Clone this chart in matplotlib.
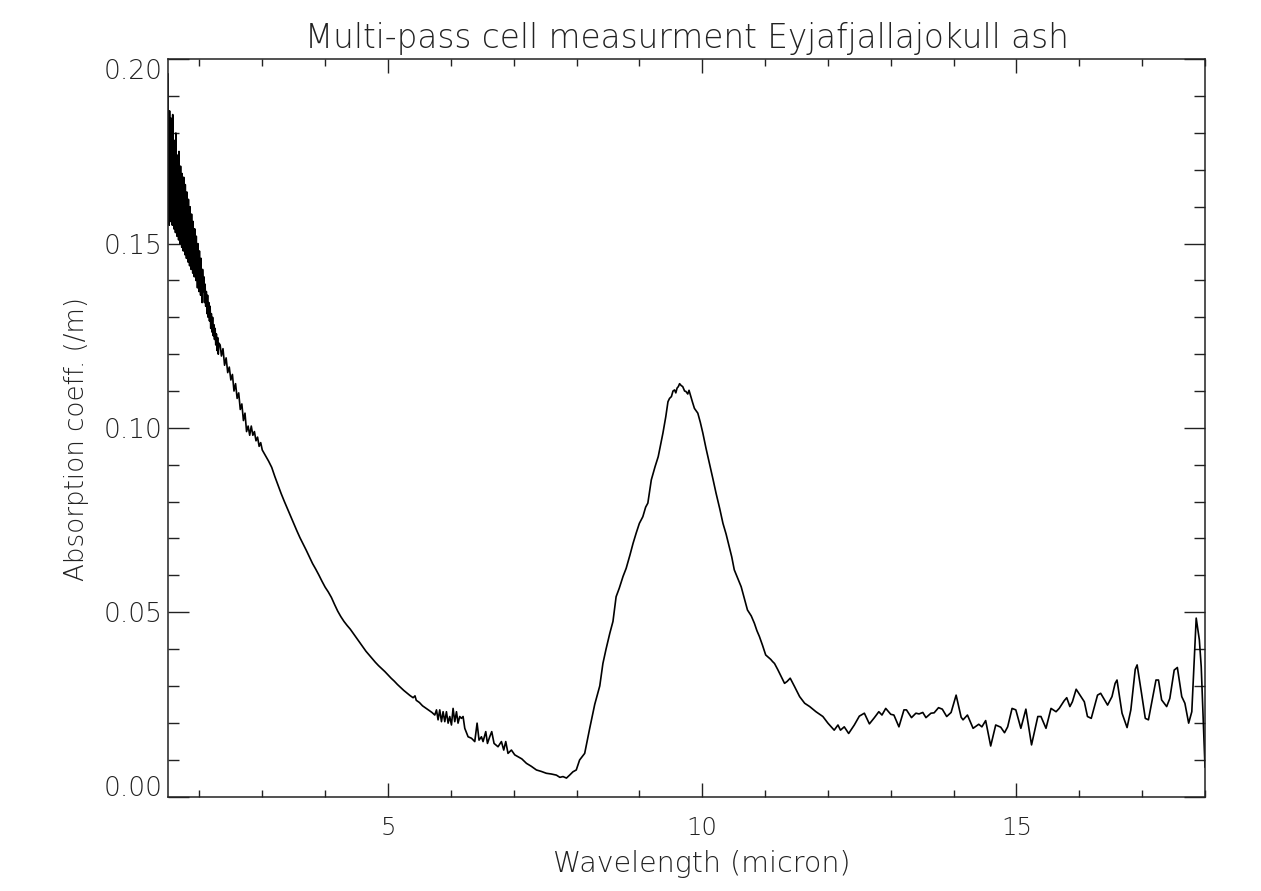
import matplotlib
matplotlib.use("Agg")
import matplotlib.pyplot as plt
from matplotlib.ticker import MultipleLocator, FixedFormatter, FixedLocator
import numpy as np

# ---------------- data ----------------
# short-wave noisy band, micron / absorption (/m)
wl_band = [1.50000, 1.50625, 1.51250, 1.51875, 1.52500, 1.53125, 1.53750, 1.54375, 1.55000, 1.55625,
           1.56250, 1.56875, 1.57500, 1.58125, 1.58750, 1.59375, 1.60000, 1.60625, 1.61250, 1.61875,
           1.62500, 1.63125, 1.63750, 1.64375, 1.65000, 1.65625, 1.66250, 1.66875, 1.67500, 1.68125,
           1.68750, 1.69375, 1.70000, 1.70625, 1.71250, 1.71875, 1.72500, 1.73125, 1.73750, 1.74375,
           1.75000, 1.75625, 1.76250, 1.76875, 1.77500, 1.78125, 1.78750, 1.79375, 1.80000, 1.80625,
           1.81250, 1.81875, 1.82500, 1.83125, 1.83750, 1.84375, 1.85000, 1.85625, 1.86250, 1.86875,
           1.87500, 1.88125, 1.88750, 1.89375, 1.90000, 1.90625, 1.91250, 1.91875, 1.92500, 1.93125,
           1.93750, 1.94375, 1.95000, 1.95625, 1.96250, 1.96875, 1.97500, 1.98125, 1.98750, 1.99375,
           2.00000, 2.00625, 2.01250, 2.01875, 2.02500, 2.03125, 2.03750, 2.04375, 2.05000]
ab_band = [0.196, 0.160, 0.183, 0.155, 0.186, 0.158, 0.179, 0.156, 0.184, 0.161,
           0.181, 0.155, 0.185, 0.158, 0.177, 0.154, 0.178, 0.159, 0.175, 0.153,
           0.180, 0.156, 0.172, 0.152, 0.174, 0.157, 0.170, 0.151, 0.175, 0.154,
           0.168, 0.150, 0.171, 0.155, 0.166, 0.149, 0.169, 0.153, 0.164, 0.148,
           0.168, 0.152, 0.163, 0.147, 0.166, 0.150, 0.161, 0.146, 0.164, 0.149,
           0.159, 0.145, 0.162, 0.148, 0.157, 0.144, 0.160, 0.147, 0.155, 0.143,
           0.158, 0.145, 0.153, 0.142, 0.156, 0.144, 0.151, 0.141, 0.154, 0.143,
           0.149, 0.140, 0.152, 0.141, 0.147, 0.138, 0.150, 0.140, 0.145, 0.137,
           0.148, 0.139, 0.143, 0.136, 0.146, 0.137, 0.141, 0.134, 0.143]

# fuzzy part of the short-wave decline
wl_short = [2.06, 2.07, 2.08, 2.09, 2.10, 2.11, 2.12, 2.13, 2.14, 2.15,
            2.16, 2.17, 2.18, 2.19, 2.20, 2.21, 2.22, 2.23, 2.24, 2.25,
            2.26, 2.27, 2.28, 2.29, 2.30, 2.31, 2.33, 2.35,
            2.375, 2.400, 2.425, 2.450, 2.475, 2.500, 2.525, 2.550, 2.575, 2.600,
            2.625, 2.650, 2.675, 2.700, 2.725, 2.750, 2.775, 2.800, 2.825, 2.850,
            2.875, 2.900, 2.925, 2.950, 2.975, 3.000]
ab_short = [0.137, 0.141, 0.134, 0.139, 0.133, 0.137, 0.131, 0.136, 0.130, 0.134,
            0.129, 0.133, 0.127, 0.131, 0.126, 0.130, 0.125, 0.128, 0.124, 0.127,
            0.1225, 0.1255, 0.121, 0.1245, 0.120, 0.123, 0.1225, 0.1195,
            0.1215, 0.117, 0.119, 0.115, 0.1165, 0.113, 0.1145, 0.110, 0.112, 0.108,
            0.1095, 0.105, 0.1065, 0.102, 0.104, 0.099, 0.1005, 0.098, 0.1005, 0.098,
            0.099, 0.0965, 0.0975, 0.095, 0.096, 0.0940]

# smooth decline
wl_decline = [3.05, 3.10, 3.15, 3.20, 3.25, 3.30, 3.35, 3.40, 3.45, 3.50,
              3.55, 3.60, 3.65, 3.70, 3.75, 3.80, 3.85, 3.90, 3.95, 4.00,
              4.05, 4.10, 4.15, 4.20, 4.25, 4.30, 4.35, 4.40, 4.45, 4.50,
              4.55, 4.60, 4.65, 4.70, 4.75, 4.80, 4.85, 4.90, 4.95, 5.00,
              5.05, 5.10, 5.15, 5.20, 5.25, 5.30, 5.35, 5.40, 5.43, 5.45,
              5.50, 5.55, 5.60, 5.65]
ab_decline = [0.0925, 0.0910, 0.0893, 0.0868, 0.0845, 0.0822, 0.0801, 0.0781, 0.0761, 0.0741,
              0.0721, 0.0702, 0.0685, 0.0668, 0.0650, 0.0632, 0.0617, 0.0601, 0.0584, 0.0568,
              0.0555, 0.0540, 0.0521, 0.0503, 0.0488, 0.0475, 0.0464, 0.0454, 0.0442, 0.0430,
              0.0418, 0.0406, 0.0394, 0.0384, 0.0374, 0.0364, 0.0355, 0.0347, 0.0339, 0.0330,
              0.0321, 0.0313, 0.0304, 0.0296, 0.0288, 0.0281, 0.0274, 0.0268, 0.0273, 0.0261,
              0.0255, 0.0246, 0.0240, 0.0234]

# noisy trough
wl_trough = [5.700, 5.745, 5.772, 5.797, 5.824, 5.851, 5.877, 5.904, 5.930, 5.957,
             5.983, 6.010, 6.036, 6.063, 6.090, 6.115, 6.142, 6.169, 6.195, 6.222,
             6.275, 6.329, 6.381, 6.418, 6.449, 6.487, 6.513, 6.556, 6.583, 6.619,
             6.651, 6.688, 6.751, 6.805, 6.842, 6.874, 6.910, 6.964, 7.017, 7.069,
             7.130, 7.203, 7.280, 7.362, 7.440, 7.520, 7.600, 7.680, 7.735, 7.785,
             7.840, 7.890, 7.943, 7.996]
ab_trough = [0.0228, 0.0221, 0.0235, 0.0208, 0.0235, 0.0203, 0.0230, 0.0203, 0.0230, 0.0199,
             0.0217, 0.0194, 0.0239, 0.0203, 0.0230, 0.0199, 0.0217, 0.0212, 0.0217, 0.0185,
             0.0162, 0.0158, 0.0149, 0.0199, 0.0153, 0.0162, 0.0149, 0.0176, 0.0144, 0.0162,
             0.0176, 0.0144, 0.0135, 0.0149, 0.0126, 0.0149, 0.0117, 0.0126, 0.0113, 0.0108,
             0.0102, 0.0090, 0.0082, 0.0072, 0.0068, 0.0063, 0.0061, 0.0058, 0.0052, 0.0054,
             0.0050, 0.0058, 0.0067, 0.0072]

# silicate peak
wl_peak = [8.049, 8.13, 8.21, 8.29, 8.37, 8.42, 8.47, 8.53, 8.58, 8.63,
           8.68, 8.74, 8.79, 8.85, 8.90, 8.95, 9.00, 9.055, 9.10, 9.135,
           9.19, 9.25, 9.30, 9.375, 9.42, 9.455, 9.48, 9.51, 9.535, 9.56,
           9.58, 9.60, 9.62, 9.64, 9.665, 9.69, 9.72, 9.74, 9.77, 9.79,
           9.81, 9.845, 9.876, 9.93, 9.97, 10.01, 10.06, 10.115, 10.17, 10.22,
           10.28, 10.33, 10.38, 10.43, 10.47, 10.51, 10.57, 10.62, 10.67, 10.72,
           10.78, 10.83, 10.87, 10.91, 10.96, 11.01, 11.05, 11.09, 11.12, 11.15,
           11.20, 11.25, 11.31, 11.35, 11.40]
ab_peak = [0.0099, 0.0117, 0.0185, 0.0250, 0.0300, 0.0361, 0.0400, 0.0443, 0.0475, 0.0542,
           0.0565, 0.0597, 0.0619, 0.0655, 0.0687, 0.0715, 0.0741, 0.0759, 0.0785, 0.0796,
           0.0859, 0.0895, 0.0922, 0.0986, 0.1030, 0.1071, 0.1080, 0.1085, 0.1100, 0.1103,
           0.1095, 0.1108, 0.1112, 0.1120, 0.1115, 0.1112, 0.1100, 0.1099, 0.1092, 0.1102,
           0.1090, 0.1070, 0.1053, 0.1040, 0.1015, 0.0986, 0.0945, 0.0904, 0.0862, 0.0823,
           0.0780, 0.0741, 0.0712, 0.0678, 0.0650, 0.0615, 0.0590, 0.0569, 0.0538, 0.0506,
           0.0490, 0.0470, 0.0450, 0.0434, 0.0410, 0.0384, 0.0378, 0.0372, 0.0366, 0.0361,
           0.0345, 0.0328, 0.0307, 0.0312, 0.0321]

# long-wave tail
wl_long = [11.47, 11.55, 11.63, 11.71, 11.81, 11.92, 12.00, 12.10, 12.16, 12.20,
           12.26, 12.33, 12.42, 12.50, 12.58, 12.66, 12.74, 12.81, 12.86, 12.92,
           13.00, 13.05, 13.13, 13.21, 13.25, 13.33, 13.40, 13.45, 13.51, 13.56,
           13.64, 13.69, 13.76, 13.82, 13.89, 13.96, 14.04, 14.12, 14.15, 14.22,
           14.31, 14.40, 14.45, 14.51, 14.59, 14.67, 14.75, 14.81, 14.86, 14.93,
           14.99, 15.07, 15.15, 15.24, 15.34, 15.39, 15.47, 15.55, 15.63, 15.68,
           15.76, 15.80, 15.85, 15.89, 15.95, 16.08, 16.13, 16.19, 16.29, 16.34,
           16.45, 16.52, 16.57, 16.60, 16.68, 16.76, 16.82, 16.89, 16.92, 16.99,
           17.05, 17.10, 17.16, 17.22, 17.26, 17.31, 17.39, 17.44, 17.51, 17.56,
           17.63, 17.68, 17.74, 17.79, 17.86, 17.91, 17.94, 17.98, 18.00]
ab_long = [0.0298, 0.0271, 0.0253, 0.0244, 0.0230, 0.0217, 0.0199, 0.0180, 0.0194, 0.0180,
           0.0189, 0.0171, 0.0194, 0.0218, 0.0226, 0.0197, 0.0214, 0.0230, 0.0221, 0.0239,
           0.0223, 0.0221, 0.0189, 0.0235, 0.0235, 0.0214, 0.0226, 0.0224, 0.0228, 0.0214,
           0.0226, 0.0227, 0.0241, 0.0237, 0.0217, 0.0228, 0.0275, 0.0215, 0.0208, 0.0221,
           0.0185, 0.0196, 0.0189, 0.0206, 0.0137, 0.0194, 0.0188, 0.0173, 0.0189, 0.0239,
           0.0235, 0.0185, 0.0237, 0.0140, 0.0217, 0.0217, 0.0185, 0.0239, 0.0230, 0.0239,
           0.0260, 0.0268, 0.0244, 0.0257, 0.0291, 0.0257, 0.0217, 0.0212, 0.0275, 0.0280,
           0.0248, 0.0271, 0.0307, 0.0316, 0.0226, 0.0187, 0.0235, 0.0345, 0.0357, 0.0280,
           0.0212, 0.0208, 0.0262, 0.0316, 0.0316, 0.0262, 0.0244, 0.0266, 0.0343, 0.0350,
           0.0271, 0.0253, 0.0199, 0.0230, 0.0484, 0.0425, 0.0352, 0.0171, 0.0080]

x_major = [5, 10, 15]
x_labels = ["5", "10", "15"]
y_major = [0.00, 0.05, 0.10, 0.15, 0.20]
y_labels = ["0.00", "0.05", "0.10", "0.15", "0.20"]

title = "Multi-pass cell measurment Eyjafjallajokull ash"
xlabel = "Wavelength (micron)"
ylabel = "Absorption coeff. (/m)"

# ---------------- plot ----------------
wl = np.concatenate([wl_band, wl_short, wl_decline, wl_trough, wl_peak, wl_long])
ab = np.concatenate([ab_band, ab_short, ab_decline, ab_trough, ab_peak, ab_long])

plt.rcParams['font.family'] = ['DejaVu Sans']
plt.rcParams['font.weight'] = 'light'
txt_color = '#222222'

fig = plt.figure(figsize=(12.61, 8.91), dpi=100)
ax = fig.add_axes([168/1261, 1-796.5/891, (1205-168)/1261, (796.5-59.3)/891])

ax.plot(wl, ab, color='black', lw=1.2)
ax.set_xlim(1.5, 18.0)
ax.set_ylim(0.0, 0.20)

ax.xaxis.set_major_locator(FixedLocator(x_major))
ax.xaxis.set_major_formatter(FixedFormatter(x_labels))
ax.xaxis.set_minor_locator(MultipleLocator(1))
ax.yaxis.set_major_locator(FixedLocator(y_major))
ax.yaxis.set_major_formatter(FixedFormatter(y_labels))
ax.yaxis.set_minor_locator(MultipleLocator(0.01))

ax.tick_params(axis='both', which='both', direction='in', top=True, right=True,
               color='#222222', width=1.0, labelcolor=txt_color)
ax.tick_params(axis='x', which='major', length=10.4, pad=14, labelsize=17.5)
ax.tick_params(axis='x', which='minor', length=5.2)
ax.tick_params(axis='y', which='major', length=15, pad=4, labelsize=19)
ax.tick_params(axis='y', which='minor', length=7.6)
for sp in ax.spines.values():
    sp.set_linewidth(1.1)
    sp.set_color('#222222')

ax.set_title(title, fontsize=23.5, color=txt_color, pad=8, fontweight='light')
ax.set_xlabel(xlabel, fontsize=20.5, color=txt_color, fontweight='light')
ax.set_ylabel(ylabel, fontsize=18.8, color=txt_color, fontweight='light')
ax.xaxis.set_label_coords(0.515, -0.073)
ax.yaxis.set_label_coords(-0.076, 0.485)

fig.canvas.draw()
yticks = ax.yaxis.get_major_ticks()
for t in ax.xaxis.get_major_ticks() + yticks:
    t.label1.set_fontweight('light')
# outermost y labels are kept inside the axis span, as in the original
yticks[0].label1.set_verticalalignment('baseline')
yticks[-1].label1.set_verticalalignment('top')

fig.savefig("out.png", dpi=100, facecolor='white')
